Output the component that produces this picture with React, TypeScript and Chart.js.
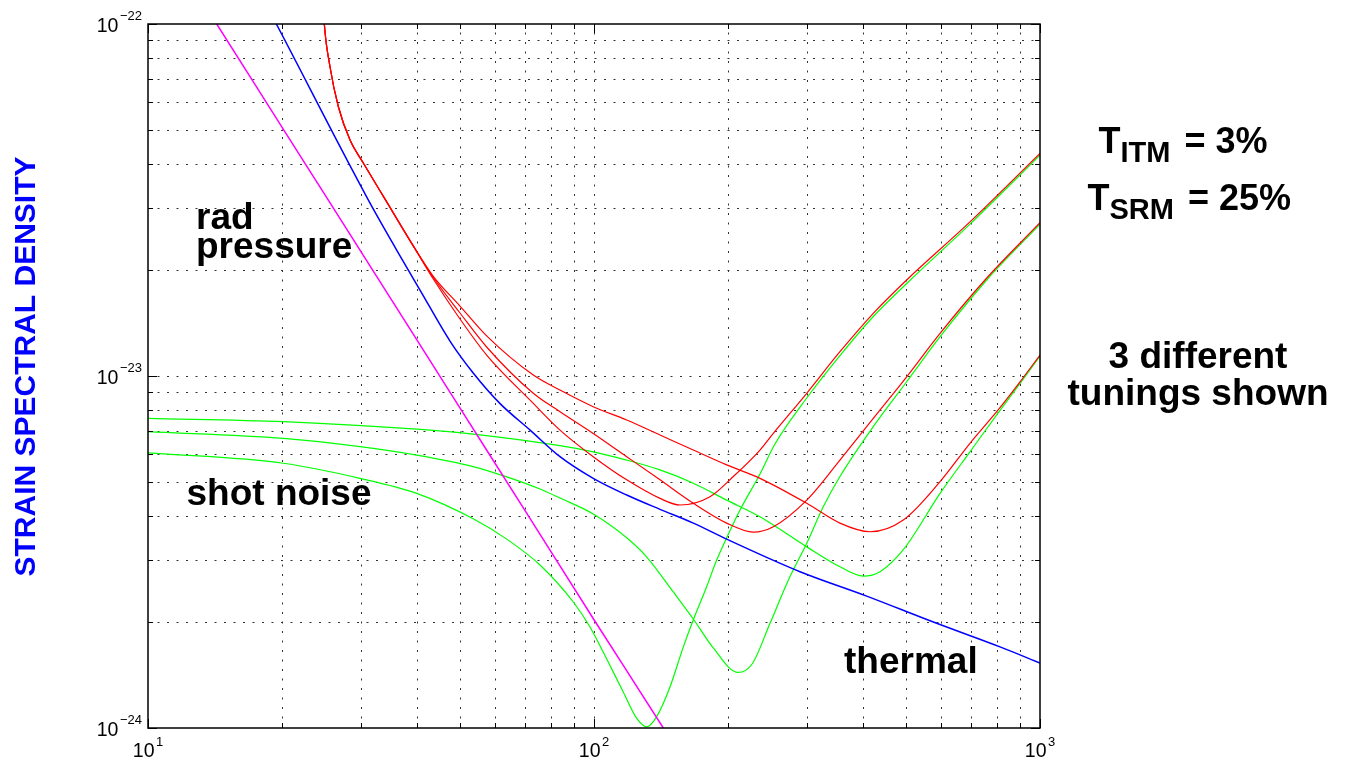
import React, { useEffect, useRef } from 'react';
import { Chart, registerables } from 'chart.js';

Chart.register(...registerables);

// ---- axis ranges and ticks ----
const xRange = [10, 1000];
const yRange = [1e-24, 1e-22];
const xMajorTicks = [10, 100, 1000];
const xMinorTicks = [20, 30, 40, 50, 60, 70, 80, 90, 200, 300, 400, 500, 600, 700, 800, 900];
const yMajorTicks = [1e-24, 1e-23, 1e-22];
const yMinorTicks = [2e-24, 3e-24, 4e-24, 5e-24, 6e-24, 7e-24, 8e-24, 9e-24, 2e-23, 3e-23, 4e-23, 5e-23, 6e-23, 7e-23, 8e-23, 9e-23];
const xTickExponents = ['1', '2', '3'];
const yTickExponents = ['\u221224', '\u221223', '\u221222'];

// ---- radiation pressure (magenta) ----
const radF = [10, 14.26, 20, 30, 50, 70, 100, 143, 170];
const radH = [2.03e-22, 1e-22, 5.08e-23, 2.26e-23, 8.13e-24, 4.15e-24, 2.03e-24, 1e-24, 7.04e-25];

// ---- thermal (blue) ----
const thermF = [15, 19.4, 31.2, 36.1, 40.73, 47.54, 53.6, 61.5, 71.9, 83.9, 99.6, 118.4, 140.6, 167, 198.4, 289.7, 408.7, 576.6, 813.5, 1000];
const thermH = [1.85e-22, 1e-22, 3.16e-23, 2.28e-23, 1.755e-23, 1.257e-23, 1.02e-23, 8.36e-24, 7.02e-24, 5.9e-24, 5.12e-24, 4.59e-24, 4.18e-24, 3.82e-24, 3.44e-24, 2.78e-24, 2.37e-24, 2.0e-24, 1.7e-24, 1.53e-24];

// ---- total noise (red), common low-frequency part ----
const totalCommonF = [24.5, 24.85, 25.59, 26.72, 28.38, 30.39, 34.0, 39.68];
const totalCommonH = [1.4e-22, 1e-22, 7.56e-23, 5.82e-23, 4.68e-23, 4.03e-23, 3.18e-23, 2.3e-23];

const totalAF = [43.62, 50.07, 57.45, 73.1, 83.9, 99.6, 118.4, 140.6, 167.0, 198.4, 235.6, 299.9, 356.0, 415.7, 493.8, 596.9, 696.6, 799.6, 902.1, 1000];
const totalAH = [1.92e-23, 1.58e-23, 1.3e-23, 1.006e-23, 9.12e-24, 8.18e-24, 7.5e-24, 6.8e-24, 6.16e-24, 5.59e-24, 5.12e-24, 4.35e-24, 3.82e-24, 3.61e-24, 3.9e-24, 5.01e-24, 6.44e-24, 7.92e-24, 9.63e-24, 1.147e-23];

const totalBF = [43.62, 50.07, 57.45, 73.1, 83.9, 99.6, 118.4, 140.6, 167.0, 198.4, 227.6, 252.4, 299.9, 356.0, 422.9, 502.4, 596.9, 752.8, 1000];
const totalBH = [1.905e-23, 1.51e-23, 1.209e-23, 8.93e-24, 7.92e-24, 6.87e-24, 5.9e-24, 5.07e-24, 4.35e-24, 3.82e-24, 3.6e-24, 3.73e-24, 4.44e-24, 5.77e-24, 7.58e-24, 9.95e-24, 1.322e-23, 1.874e-23, 2.725e-23];

const totalCF = [43.62, 50.07, 57.45, 73.1, 83.9, 99.6, 118.4, 140.6, 155.9, 182.0, 205.3, 235.6, 252.4, 299.9, 356.0, 422.9, 502.4, 696.6, 1000];
const totalCH = [1.886e-23, 1.452e-23, 1.147e-23, 8.36e-24, 7.02e-24, 5.9e-24, 5.07e-24, 4.49e-24, 4.3e-24, 4.54e-24, 5.18e-24, 6.16e-24, 6.87e-24, 8.93e-24, 1.172e-23, 1.507e-23, 1.874e-23, 2.74e-23, 4.29e-23];

// ---- shot noise (green), three tunings ----
const shotAF = [10, 20.11, 40.04, 53.6, 83.9, 99.6, 118.4, 140.6, 167.0, 198.4, 235.6, 299.9, 356.0, 401.6, 437.8, 493.8, 596.9, 696.6, 799.6, 902.1, 1000];
const shotAH = [7.58e-24, 7.42e-24, 7.06e-24, 6.84e-24, 6.34e-24, 6.09e-24, 5.77e-24, 5.41e-24, 4.96e-24, 4.44e-24, 3.98e-24, 3.27e-24, 2.87e-24, 2.7e-24, 2.78e-24, 3.21e-24, 4.64e-24, 6.09e-24, 7.75e-24, 9.53e-24, 1.14e-23];

const shotBF = [10, 20.11, 29.88, 40.04, 53.6, 63.72, 75.67, 83.9, 99.6, 118.4, 131.3, 150.6, 167.0, 185.1, 210.3, 226.2, 248.0, 272.7, 299.9, 326.6, 356.0, 422.9, 502.4, 596.9, 759.5, 1000];
const shotBH = [6.95e-24, 6.65e-24, 6.3e-24, 5.96e-24, 5.53e-24, 5.17e-24, 4.775e-24, 4.5e-24, 4.055e-24, 3.47e-24, 3.06e-24, 2.435e-24, 2.04e-24, 1.688e-24, 1.438e-24, 1.52e-24, 1.98e-24, 2.63e-24, 3.35e-24, 4.25e-24, 5.18e-24, 7.18e-24, 9.63e-24, 1.293e-23, 1.874e-23, 2.7e-23];

const shotCF = [10, 20.11, 29.88, 40.04, 53.6, 63.72, 75.67, 89.87, 97.95, 106.8, 116.3, 124.6, 131.3, 138.2, 148.1, 158.6, 167.0, 178.9, 188.4, 198.4, 212.5, 235.6, 254.5, 299.9, 356.0, 422.9, 506.6, 696.6, 1000];
const shotCH = [6.05e-24, 5.65e-24, 5.12e-24, 4.64e-24, 3.93e-24, 3.44e-24, 2.905e-24, 2.28e-24, 1.936e-24, 1.57e-24, 1.266e-24, 1.067e-24, 1.008e-24, 1.077e-24, 1.31e-24, 1.7e-24, 2.03e-24, 2.52e-24, 3.0e-24, 3.47e-24, 4.16e-24, 5.27e-24, 6.41e-24, 8.66e-24, 1.143e-23, 1.476e-23, 1.85e-23, 2.7e-23, 4.24e-23];

const FONT = '"Liberation Sans", Arial, Helvetica, sans-serif';

export default function App() {
  const ref = useRef<HTMLCanvasElement>(null);

  useEffect(() => {
    const canvas = ref.current;
    if (!canvas) return;

    const pts = (f: number[], h: number[]) => f.map((x, i) => ({ x, y: h[i] }));
    const mk = (label: string, f: number[], h: number[], color: string, width: number) => ({
      label,
      data: pts(f, h),
      borderColor: color,
      backgroundColor: color,
      borderWidth: width,
      pointRadius: 0,
      pointHoverRadius: 0,
      fill: false,
      cubicInterpolationMode: 'monotone' as const,
    });

    const frame = {
      id: 'frame',
      beforeDatasetsDraw(chart: any) {
        const { ctx, chartArea: a, scales } = chart;
        const xs = scales.x;
        const ys = scales.y;
        ctx.save();
        ctx.strokeStyle = '#333';
        ctx.lineWidth = 1;
        ctx.setLineDash([2, 7.5]);
        const xGrid = [...xMinorTicks, 100];
        xGrid.forEach((v) => {
          const px = Math.round(xs.getPixelForValue(v)) + 0.5;
          ctx.beginPath();
          ctx.moveTo(px, a.bottom);
          ctx.lineTo(px, a.top);
          ctx.stroke();
        });
        const yGrid = [...yMinorTicks, 1e-23];
        yGrid.forEach((v) => {
          const py = Math.round(ys.getPixelForValue(v)) + 0.5;
          ctx.beginPath();
          ctx.moveTo(a.left, py);
          ctx.lineTo(a.right, py);
          ctx.stroke();
        });
        ctx.restore();
      },
      afterDatasetsDraw(chart: any) {
        const { ctx, chartArea: a, scales } = chart;
        const xs = scales.x;
        const ys = scales.y;
        ctx.save();
        ctx.setLineDash([]);
        ctx.strokeStyle = '#000';
        ctx.lineWidth = 1;
        const xTick = (v: number, len: number) => {
          const px = Math.round(xs.getPixelForValue(v)) + 0.5;
          ctx.beginPath();
          ctx.moveTo(px, a.bottom);
          ctx.lineTo(px, a.bottom - len);
          ctx.moveTo(px, a.top);
          ctx.lineTo(px, a.top + len);
          ctx.stroke();
        };
        const yTick = (v: number, len: number) => {
          const py = Math.round(ys.getPixelForValue(v)) + 0.5;
          ctx.beginPath();
          ctx.moveTo(a.left, py);
          ctx.lineTo(a.left + len, py);
          ctx.moveTo(a.right, py);
          ctx.lineTo(a.right - len, py);
          ctx.stroke();
        };
        xMinorTicks.forEach((v) => xTick(v, 5));
        xMajorTicks.forEach((v) => xTick(v, 9));
        yMinorTicks.forEach((v) => yTick(v, 5));
        yMajorTicks.forEach((v) => yTick(v, 9));

        ctx.lineWidth = 1.5;
        ctx.strokeRect(a.left, a.top, a.right - a.left, a.bottom - a.top);

        // tick labels
        ctx.fillStyle = '#000';
        ctx.textBaseline = 'alphabetic';
        const mainFont = `19.5px ${FONT}`;
        const supFont = `13px ${FONT}`;
        yMajorTicks.forEach((v, i) => {
          const py = ys.getPixelForValue(v);
          ctx.font = supFont;
          const supW = ctx.measureText(yTickExponents[i]).width;
          const supRight = a.left - 6;
          const supLeft = supRight - supW;
          ctx.textAlign = 'left';
          ctx.fillText(yTickExponents[i], supLeft, py - 4.5);
          ctx.font = mainFont;
          ctx.textAlign = 'right';
          ctx.fillText('10', supLeft - 1.5, py + 7.5);
        });
        xMajorTicks.forEach((v, i) => {
          const px = xs.getPixelForValue(v);
          ctx.font = mainFont;
          const mainW = ctx.measureText('10').width;
          ctx.font = supFont;
          const supW = ctx.measureText(xTickExponents[i]).width;
          const start = px - (mainW + 1.5 + supW) / 2;
          ctx.textAlign = 'left';
          ctx.font = mainFont;
          ctx.fillText('10', start, a.bottom + 29);
          ctx.font = supFont;
          ctx.fillText(xTickExponents[i], start + mainW + 1.5, a.bottom + 18);
        });
        ctx.restore();
      },
      afterDraw(chart: any) {
        const { ctx } = chart;
        ctx.save();
        // y axis title
        ctx.translate(35, 366.5);
        ctx.rotate(-Math.PI / 2);
        ctx.font = `bold 30px ${FONT}`;
        ctx.fillStyle = '#0000ff';
        ctx.textAlign = 'center';
        ctx.textBaseline = 'alphabetic';
        ctx.fillText('STRAIN SPECTRAL DENSITY', 0, 0);
        ctx.restore();

        ctx.save();
        ctx.fillStyle = '#000';
        ctx.textBaseline = 'alphabetic';
        ctx.textAlign = 'left';
        ctx.font = `bold 37px ${FONT}`;
        ctx.fillText('rad', 196, 229);
        ctx.fillText('pressure', 196, 258);
        ctx.fillText('shot noise', 186.5, 505);
        ctx.fillText('thermal', 844, 673);
        ctx.textAlign = 'center';
        ctx.fillText('3 different', 1198, 368);
        ctx.fillText('tunings shown', 1198, 405);

        const subLabel = (x: number, y: number, sub: string, rest: string) => {
          ctx.textAlign = 'left';
          ctx.font = `bold 36px ${FONT}`;
          ctx.fillText('T', x, y);
          let cx = x + ctx.measureText('T').width;
          ctx.font = `bold 29px ${FONT}`;
          ctx.fillText(sub, cx, y + 9);
          cx += ctx.measureText(sub).width + 4;
          ctx.font = `bold 36px ${FONT}`;
          ctx.fillText(rest, cx, y);
        };
        subLabel(1098.5, 153.3, 'ITM', ' = 3%');
        subLabel(1087.5, 210, 'SRM', ' = 25%');
        ctx.restore();
      },
    };

    const chart = new Chart(canvas, {
      type: 'line',
      data: {
        datasets: [
          mk('rad pressure', radF, radH, '#ff00ff', 1.5),
          mk('thermal', thermF, thermH, '#0000ff', 1.5),
          mk('total A', [...totalCommonF, ...totalAF], [...totalCommonH, ...totalAH], '#ff0000', 1.2),
          mk('total B', [...totalCommonF, ...totalBF], [...totalCommonH, ...totalBH], '#ff0000', 1.2),
          mk('total C', [...totalCommonF, ...totalCF], [...totalCommonH, ...totalCH], '#ff0000', 1.2),
          mk('shot A', shotAF, shotAH, '#00ff00', 1.2),
          mk('shot B', shotBF, shotBH, '#00ff00', 1.2),
          mk('shot C', shotCF, shotCH, '#00ff00', 1.2),
        ] as any,
      },
      options: {
        responsive: false,
        maintainAspectRatio: false,
        animation: false,
        events: [],
        layout: { padding: { left: 148, right: 305, top: 24, bottom: 33 } },
        plugins: { legend: { display: false }, tooltip: { enabled: false }, title: { display: false } },
        scales: {
          x: { type: 'logarithmic', min: xRange[0], max: xRange[1], display: false },
          y: { type: 'logarithmic', min: yRange[0], max: yRange[1], display: false },
        },
      } as any,
      plugins: [frame],
    });

    return () => chart.destroy();
  }, []);

  return (
    <div style={{ position: 'fixed', left: 0, top: 0, width: 1345, height: 761, background: '#fff' }}>
      <canvas ref={ref} width={1345} height={761} style={{ display: 'block', width: 1345, height: 761 }} />
    </div>
  );
}
